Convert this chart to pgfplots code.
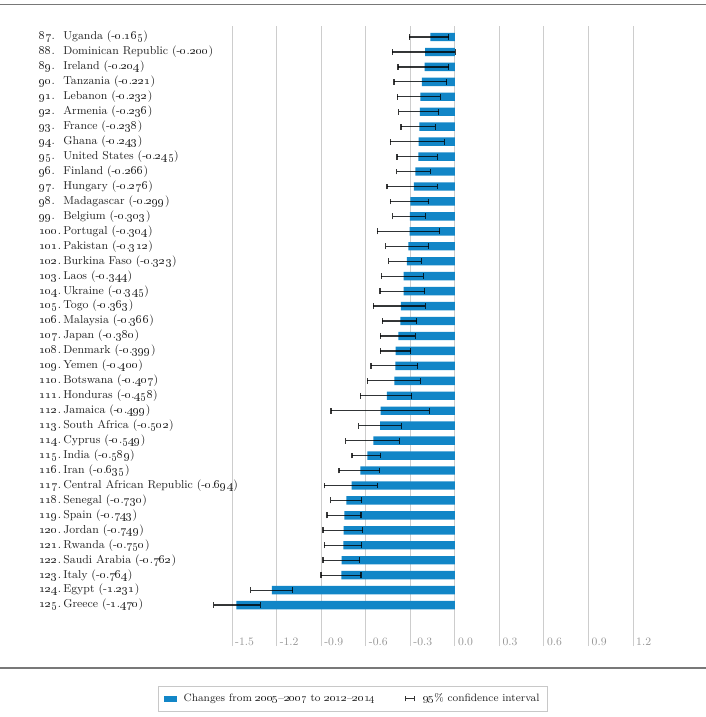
\documentclass[border=0pt]{standalone}
\usepackage{pgfplots}
\pgfplotsset{compat=1.18}
\usepackage{pgfplotstable}

\definecolor{barblue}{RGB}{18,134,199}
\definecolor{gridgray}{RGB}{205,205,205}
\definecolor{tickgray}{RGB}{150,150,150}
\definecolor{rulegray}{RGB}{120,120,120}
\definecolor{legendgray}{RGB}{200,200,200}
\definecolor{labelblack}{RGB}{35,35,35}

% old-style figures for the country labels
\newcommand\os[1]{\oldstylenums{#1}}
% rank, country, value (integer part, decimals)
\newcommand\lb[4]{\makebox[18pt][l]{\os{#1}.}#2 (-\os{#3}.\os{#4})}

% y = row position (0 = bottom), val = change, lo/hi = 95% confidence bounds
\pgfplotstableread{
y  val     lo      hi
38 -0.165  -0.307  -0.042
37 -0.200  -0.422   0.003
36 -0.204  -0.382  -0.040
35 -0.221  -0.409  -0.054
34 -0.232  -0.386  -0.099
33 -0.236  -0.378  -0.108
32 -0.238  -0.362  -0.132
31 -0.243  -0.434  -0.072
30 -0.245  -0.389  -0.119
29 -0.266  -0.391  -0.164
28 -0.276  -0.456  -0.117
27 -0.299  -0.434  -0.177
26 -0.303  -0.418  -0.198
25 -0.304  -0.521  -0.101
24 -0.312  -0.465  -0.175
23 -0.323  -0.445  -0.225
22 -0.344  -0.496  -0.211
21 -0.345  -0.503  -0.204
20 -0.363  -0.548  -0.198
19 -0.366  -0.488  -0.256
18 -0.380  -0.501  -0.267
17 -0.399  -0.501  -0.297
16 -0.400  -0.564  -0.249
15 -0.407  -0.589  -0.233
14 -0.458  -0.636  -0.290
13 -0.499  -0.834  -0.173
12 -0.502  -0.647  -0.359
11 -0.549  -0.735  -0.375
10 -0.589  -0.692  -0.499
9  -0.635  -0.780  -0.506
8  -0.694  -0.879  -0.523
7  -0.730  -0.836  -0.627
6  -0.743  -0.860  -0.631
5  -0.749  -0.887  -0.620
4  -0.750  -0.879  -0.627
3  -0.762  -0.887  -0.641
2  -0.764  -0.901  -0.631
1  -1.231  -1.373  -1.092
0  -1.470  -1.622  -1.310
}\changes

\begin{document}
\begin{tikzpicture}
\useasboundingbox (0pt,0pt) rectangle (529.5pt,-537.75pt);
% horizontal rules framing the figure
\draw[rulegray, line width=1.4pt] (0pt,-3.4pt) -- (529.5pt,-3.4pt);
\draw[rulegray, line width=1.1pt] (0pt,-501pt) -- (529.5pt,-501pt);

\begin{axis}[
  at={(157.3pt,-484.5pt)}, anchor=south west,
  scale only axis,
  width=350.9pt, height=465pt,
  xmin=-1.65, xmax=1.5,
  ymin=-2.74, ymax=38.736,
  clip=false,
  axis line style={draw=none},
  major tick length=0pt,
  xtick={-1.5,-1.2,-0.9,-0.6,-0.3,0,0.3,0.6,0.9,1.2},
  xticklabels={-1.5,-1.2,-0.9,-0.6,-0.3,0.0,0.3,0.6,0.9,1.2},
  xmajorgrids,
  grid style={draw=gridgray, line width=0.75pt},
  xticklabel style={text=tickgray, anchor=base west, inner sep=0pt,
    xshift=2.2pt, yshift=0.6pt, font=\fontsize{8.5}{10}\selectfont},
  ytick={0,...,38},
  yticklabels={
    {\lb{125}{Greece}{1}{470}},
    {\lb{124}{Egypt}{1}{231}},
    {\lb{123}{Italy}{0}{764}},
    {\lb{122}{Saudi Arabia}{0}{762}},
    {\lb{121}{Rwanda}{0}{750}},
    {\lb{120}{Jordan}{0}{749}},
    {\lb{119}{Spain}{0}{743}},
    {\lb{118}{Senegal}{0}{730}},
    {\lb{117}{Central African Republic}{0}{694}},
    {\lb{116}{Iran}{0}{635}},
    {\lb{115}{India}{0}{589}},
    {\lb{114}{Cyprus}{0}{549}},
    {\lb{113}{South Africa}{0}{502}},
    {\lb{112}{Jamaica}{0}{499}},
    {\lb{111}{Honduras}{0}{458}},
    {\lb{110}{Botswana}{0}{407}},
    {\lb{109}{Yemen}{0}{400}},
    {\lb{108}{Denmark}{0}{399}},
    {\lb{107}{Japan}{0}{380}},
    {\lb{106}{Malaysia}{0}{366}},
    {\lb{105}{Togo}{0}{363}},
    {\lb{104}{Ukraine}{0}{345}},
    {\lb{103}{Laos}{0}{344}},
    {\lb{102}{Burkina Faso}{0}{323}},
    {\lb{101}{Pakistan}{0}{312}},
    {\lb{100}{Portugal}{0}{304}},
    {\lb{99}{Belgium}{0}{303}},
    {\lb{98}{Madagascar}{0}{299}},
    {\lb{97}{Hungary}{0}{276}},
    {\lb{96}{Finland}{0}{266}},
    {\lb{95}{United States}{0}{245}},
    {\lb{94}{Ghana}{0}{243}},
    {\lb{93}{France}{0}{238}},
    {\lb{92}{Armenia}{0}{236}},
    {\lb{91}{Lebanon}{0}{232}},
    {\lb{90}{Tanzania}{0}{221}},
    {\lb{89}{Ireland}{0}{204}},
    {\lb{88}{Dominican Republic}{0}{200}},
    {\lb{87}{Uganda}{0}{165}}},
  yticklabel style={text=labelblack, anchor=west, inner sep=0pt,
    xshift=-128pt, font=\fontsize{8.6}{10.5}\selectfont},
  legend style={at={(0.3063,-0.0645)}, anchor=north,
    draw=legendgray, line width=0.75pt, legend columns=2,
    font=\fontsize{8}{10}\selectfont, text=labelblack,
    inner xsep=4pt, inner ysep=3.5pt,
    /tikz/every even column/.append style={column sep=20pt}},
  legend cell align=left,
]
\addplot[xbar, bar width=6.3pt, bar shift=0pt, fill=barblue, draw=none,
  forget plot,
  error bars/.cd, x dir=both, x explicit,
  error mark=|,
  error bar style={draw=black, draw opacity=0.78, line width=0.9pt},
  error mark options={draw=black, draw opacity=0.78, line width=0.9pt,
    mark size=2.2pt}]
  table[x=val, y=y,
    x error plus expr=\thisrow{hi}-\thisrow{val},
    x error minus expr=\thisrow{val}-\thisrow{lo}] {\changes};

\addlegendimage{legend image code/.code={
  \fill[barblue] (0pt,-1.9pt) rectangle (9pt,1.9pt);
  \path (12pt,0pt);}}
\addlegendentry{Changes from \os{2005}--\os{2007} to \os{2012}--\os{2014}}
\addlegendimage{legend image code/.code={
  \draw[black!80, line width=0.8pt] (0pt,0pt) -- (7pt,0pt);
  \draw[black!80, line width=0.8pt] (0pt,-2pt) -- (0pt,2pt);
  \draw[black!80, line width=0.8pt] (7pt,-2pt) -- (7pt,2pt);
  \path (11pt,0pt);}}
\addlegendentry{\os{95}\% confidence interval\hspace{34pt}}
\end{axis}
\end{tikzpicture}
\end{document}
